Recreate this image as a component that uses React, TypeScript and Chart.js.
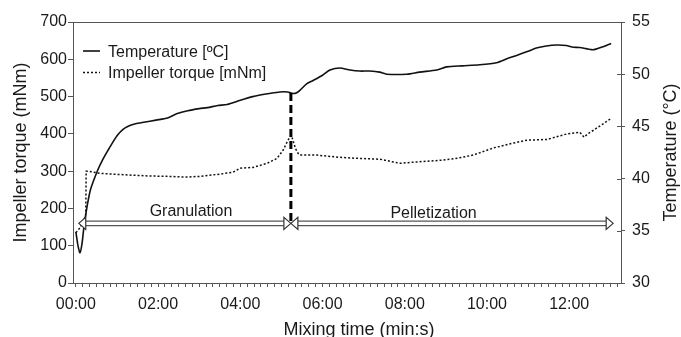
import React, { useEffect, useRef } from "react";
import { Chart, registerables } from "chart.js";

Chart.register(...registerables);

// ---- Data (time in minutes) ----
const tempTime = [0.0, 0.05, 0.1, 0.15, 0.2, 0.28, 0.36, 0.53, 0.65, 0.78, 0.9, 1.02, 1.14, 1.26, 1.45, 1.65, 1.95, 2.23, 2.45, 2.72, 3.0, 3.2, 3.45, 3.68, 4.0, 4.3, 4.48, 4.7, 4.96, 5.15, 5.28, 5.36, 5.45, 5.62, 5.77, 6.0, 6.18, 6.42, 6.67, 6.91, 7.15, 7.39, 7.56, 8.05, 8.36, 8.78, 9.02, 9.4, 9.82, 10.23, 10.5, 10.72, 11.0, 11.2, 11.44, 11.7, 11.93, 12.07, 12.25, 12.41, 12.55, 12.65, 12.8, 13.02];
const tempValues = [34.9, 33.6, 32.9, 33.8, 35.5, 37.5, 39.0, 40.8, 41.8, 42.7, 43.5, 44.2, 44.7, 45.0, 45.25, 45.4, 45.6, 45.8, 46.2, 46.5, 46.7, 46.8, 47.0, 47.1, 47.5, 47.85, 48.0, 48.15, 48.3, 48.3, 48.15, 48.2, 48.45, 49.1, 49.4, 49.9, 50.4, 50.6, 50.4, 50.3, 50.3, 50.2, 50.0, 50.0, 50.2, 50.4, 50.7, 50.8, 50.9, 51.1, 51.5, 51.8, 52.2, 52.5, 52.7, 52.8, 52.75, 52.6, 52.55, 52.45, 52.35, 52.4, 52.6, 52.95];

const torqueTime = [0.0, 0.1, 0.2, 0.24, 0.25, 0.3, 0.58, 0.9, 1.39, 1.8, 2.21, 2.7, 3.02, 3.5, 3.82, 4.0, 4.31, 4.65, 4.89, 5.04, 5.16, 5.24, 5.28, 5.33, 5.38, 5.45, 5.86, 6.42, 6.91, 7.4, 7.88, 8.2, 8.86, 9.3, 9.66, 10.15, 10.63, 10.97, 11.46, 11.95, 12.26, 12.36, 12.45, 12.58, 12.8, 13.0];
const torqueValues = [135, 148, 172, 180, 300, 300, 294, 292, 289, 287, 286, 284, 286, 292, 297, 308, 310, 321, 334, 356, 383, 396, 383, 365, 351, 343, 343, 337, 334, 332, 321, 324, 329, 335, 343, 362, 375, 383, 385, 400, 404, 391, 400, 409, 425, 440];

const xTickLabels = ["00:00", "02:00", "04:00", "06:00", "08:00", "10:00", "12:00"];
const seriesLabels = ["Temperature [ºC]", "Impeller torque [mNm]"];

// phases: boundaries (min), label centres (min), label baselines (mNm), arrow level (mNm)
const phaseBoundaries = [0.07, 5.23, 13.07];
const phaseLabels = ["Granulation", "Pelletization"];
const phaseLabelTimes = [2.8, 8.7];
const phaseLabelLevels = [180, 174];
const phaseArrowLevel = 160;

const FONT = "'Liberation Sans', Arial, Helvetica, sans-serif";
const AXIS = "#555555";
const TEXT = "#1a1a1a";
const LINE = "#111111";

function interp(xs: number[], ys: number[], t: number) {
  for (let i = 0; i < xs.length - 1; i++) {
    if (t >= xs[i] && t <= xs[i + 1]) {
      const f = (t - xs[i]) / (xs[i + 1] - xs[i]);
      return ys[i] + f * (ys[i + 1] - ys[i]);
    }
  }
  return ys[ys.length - 1];
}

const annotPlugin = {
  id: "annot",
  afterDatasetsDraw(chart: any) {
    const { ctx, chartArea, scales } = chart;
    const { left, right, top } = chartArea;
    const xs = scales.x, ys = scales.y, y1 = scales.y1;
    ctx.save();

    // top border
    ctx.strokeStyle = AXIS;
    ctx.lineWidth = 1;
    ctx.beginPath();
    ctx.moveTo(left, Math.round(top) + 0.5);
    ctx.lineTo(right, Math.round(top) + 0.5);
    // inner part of right-axis ticks
    for (let v = 30; v <= 55; v += 5) {
      const py = Math.round(y1.getPixelForValue(v)) + 0.5;
      ctx.moveTo(right - 4, py);
      ctx.lineTo(right, py);
    }
    ctx.stroke();

    // dashed vertical line at phase change
    const tb = phaseBoundaries[1];
    const bx = xs.getPixelForValue(tb);
    const tempAt = interp(tempTime, tempValues, tb);
    const cy = ys.getPixelForValue(phaseArrowLevel);
    ctx.strokeStyle = "#000";
    ctx.lineWidth = 3;
    ctx.setLineDash([8, 4]);
    ctx.beginPath();
    ctx.moveTo(bx, y1.getPixelForValue(tempAt));
    ctx.lineTo(bx, cy);
    ctx.stroke();
    ctx.setLineDash([]);

    // double-line arrows
    const headL = 7, headH = 6, gap = 2.2;
    const drawShaft = (x0: number, x1: number) => {
      ctx.fillStyle = "#fff";
      ctx.fillRect(x0, cy - gap, x1 - x0, gap * 2);
      ctx.strokeStyle = AXIS;
      ctx.lineWidth = 1.2;
      ctx.beginPath();
      ctx.moveTo(x0, cy - gap);
      ctx.lineTo(x1, cy - gap);
      ctx.moveTo(x0, cy + gap);
      ctx.lineTo(x1, cy + gap);
      ctx.stroke();
    };
    const drawHead = (tip: number, dir: number) => {
      ctx.beginPath();
      ctx.moveTo(tip, cy);
      ctx.lineTo(tip - dir * headL, cy - headH);
      ctx.lineTo(tip - dir * headL, cy + headH);
      ctx.closePath();
      ctx.fillStyle = "#fff";
      ctx.fill();
      ctx.strokeStyle = "#333";
      ctx.lineWidth = 1.2;
      ctx.stroke();
    };
    for (let i = 0; i < phaseLabels.length; i++) {
      const a = xs.getPixelForValue(phaseBoundaries[i]);
      const b = xs.getPixelForValue(phaseBoundaries[i + 1]);
      drawShaft(a + headL, b - headL);
      drawHead(a, -1);
      drawHead(b, 1);
    }

    // phase labels
    ctx.fillStyle = TEXT;
    ctx.font = `16px ${FONT}`;
    ctx.textAlign = "center";
    ctx.textBaseline = "alphabetic";
    for (let i = 0; i < phaseLabels.length; i++) {
      ctx.fillText(phaseLabels[i], xs.getPixelForValue(phaseLabelTimes[i]), ys.getPixelForValue(phaseLabelLevels[i]));
    }

    // legend
    ctx.textAlign = "left";
    ctx.strokeStyle = LINE;
    ctx.lineWidth = 1.6;
    ctx.beginPath();
    ctx.moveTo(83, 51);
    ctx.lineTo(100, 51);
    ctx.stroke();
    ctx.lineWidth = 1.5;
    ctx.setLineDash([2, 2]);
    ctx.beginPath();
    ctx.moveTo(83, 72.5);
    ctx.lineTo(100, 72.5);
    ctx.stroke();
    ctx.setLineDash([]);
    ctx.fillText(seriesLabels[0], 108, 57);
    ctx.fillText(seriesLabels[1], 108, 77.5);

    // axis titles
    ctx.font = `18px ${FONT}`;
    ctx.textAlign = "center";
    ctx.textBaseline = "alphabetic";
    const midY = (chartArea.top + chartArea.bottom) / 2;
    ctx.save();
    ctx.translate(26, midY);
    ctx.rotate(-Math.PI / 2);
    ctx.fillText("Impeller torque (mNm)", 0, 0);
    ctx.restore();
    ctx.save();
    ctx.translate(676, midY);
    ctx.rotate(-Math.PI / 2);
    ctx.fillText("Temperature (°C)", 0, 0);
    ctx.restore();
    ctx.fillText("Mixing time (min:s)", 359, 335);

    ctx.restore();
  },
};

export default function App() {
  const ref = useRef<HTMLCanvasElement | null>(null);
  useEffect(() => {
    if (!ref.current) return;
    Chart.defaults.font.family = FONT;
    const chart = new Chart(ref.current, {
      type: "line",
      data: {
        datasets: [
          {
            label: seriesLabels[0],
            data: tempTime.map((t, i) => ({ x: t, y: tempValues[i] })),
            yAxisID: "y1",
            borderColor: LINE,
            borderWidth: 1.6,
            pointRadius: 0,
            tension: 0.25,
            fill: false,
          },
          {
            label: seriesLabels[1],
            data: torqueTime.map((t, i) => ({ x: t, y: torqueValues[i] })),
            yAxisID: "y",
            borderColor: LINE,
            borderWidth: 1.5,
            borderDash: [2, 2],
            pointRadius: 0,
            tension: 0,
            fill: false,
          },
        ],
      },
      options: {
        responsive: false,
        animation: false,
        devicePixelRatio: 1,
        layout: { padding: { top: 22, left: 0, right: 0, bottom: 0 } },
        plugins: { legend: { display: false }, tooltip: { enabled: false } },
        scales: {
          x: {
            type: "linear",
            min: -0.07,
            max: 13.26,
            afterBuildTicks: (s: any) => {
              const arr = [];
              for (let k = 0; k * 10 <= 13.26 * 60; k++) arr.push({ value: k / 6 });
              s.ticks = arr;
            },
            afterFit: (s: any) => {
              s.height = 54;
            },
            ticks: {
              autoSkip: false,
              maxRotation: 0,
              minRotation: 0,
              padding: 8,
              color: TEXT,
              font: { size: 16, family: FONT },
              callback: (v: any) => {
                const k = Math.round(Number(v) * 6);
                return k % 12 === 0 ? xTickLabels[k / 12] : "";
              },
            },
            grid: { drawOnChartArea: false, drawTicks: true, tickLength: 4, color: AXIS },
            border: { display: true, color: AXIS, width: 1 },
          },
          y: {
            position: "left",
            min: 0,
            max: 700,
            afterFit: (s: any) => {
              s.width = 73;
            },
            ticks: { stepSize: 100, padding: 1, color: TEXT, font: { size: 16, family: FONT } },
            grid: { drawOnChartArea: false, drawTicks: true, tickLength: 5, color: AXIS },
            border: { display: true, color: AXIS, width: 1 },
          },
          y1: {
            position: "right",
            min: 30,
            max: 55,
            afterFit: (s: any) => {
              s.width = 60;
            },
            ticks: { stepSize: 5, padding: 7, color: TEXT, font: { size: 16, family: FONT } },
            grid: { drawOnChartArea: false, drawTicks: true, tickLength: 4, color: AXIS },
            border: { display: true, color: AXIS, width: 1 },
          },
        },
      },
      plugins: [annotPlugin],
    } as any);
    return () => chart.destroy();
  }, []);
  return (
    <div style={{ position: "fixed", left: 0, top: 0, width: 681, height: 337, background: "#fff" }}>
      <canvas ref={ref} width={681} height={337} style={{ width: 681, height: 337, display: "block" }} />
    </div>
  );
}
